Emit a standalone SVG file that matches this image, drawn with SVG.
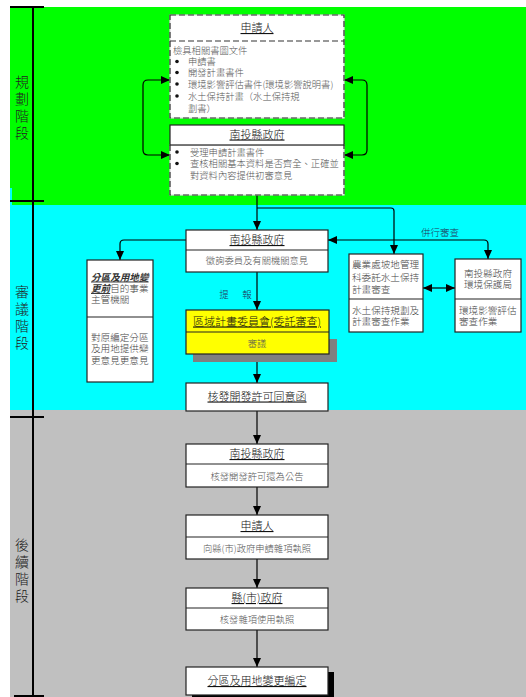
<svg xmlns="http://www.w3.org/2000/svg" width="526" height="697" viewBox="0 0 526 697">
<defs>
<marker id="ah" markerUnits="userSpaceOnUse" markerWidth="9" markerHeight="8" refX="9" refY="4" orient="auto-start-reverse">
<path d="M0,0 L9,4 L0,8 z" fill="#000"/>
</marker>
<style>
text{font-family:"Noto Sans CJK TC","Noto Sans CJK SC",sans-serif;font-weight:300;}
.box{fill:#fff;stroke:#222;stroke-width:1.2;}
.dash{fill:none;stroke:#333;stroke-width:1.2;stroke-dasharray:6,3;}
.dashbg{fill:#fff;stroke:#ddd;stroke-width:1.2;}
.hd{font-size:11px;fill:#111;text-decoration:underline;text-anchor:middle;}
.bd{font-size:9.3px;fill:#555;}
.bdc{font-size:9.3px;fill:#555;text-anchor:middle;}
.sm{font-size:9.6px;fill:#444;}
.stage{font-size:14px;fill:#222;text-anchor:middle;}
.con{fill:none;stroke:#000;stroke-width:1.2;}
.lbl{font-size:9.5px;fill:#235;}
.bi{font-weight:bold;font-style:italic;text-decoration:underline;fill:#333;}
</style>
</defs>

<g id="bands">
<rect x="10" y="7" width="516" height="198" fill="#00ff00"/>
<rect x="10" y="188" width="2" height="17" fill="#00ffff"/>
<rect x="10" y="205" width="516" height="205" fill="#00ffff"/>
<rect x="10" y="410" width="516" height="287" fill="#c0c0c0"/>
</g>

<g id="timeline" stroke="#000" stroke-width="2">
<line x1="33" y1="7" x2="33" y2="697"/>
<line x1="10" y1="7" x2="44" y2="7"/>
<line x1="10" y1="201" x2="44" y2="201"/>
<line x1="10" y1="417" x2="44" y2="417"/>
<line x1="14" y1="696" x2="44" y2="696"/>
</g>

<g id="stage-labels">
<text class="stage" x="22" y="87">規</text>
<text class="stage" x="22" y="104">劃</text>
<text class="stage" x="22" y="121">階</text>
<text class="stage" x="22" y="138">段</text>
<text class="stage" x="22" y="297">審</text>
<text class="stage" x="22" y="314">議</text>
<text class="stage" x="22" y="331">階</text>
<text class="stage" x="22" y="348">段</text>
<text class="stage" x="22" y="550">後</text>
<text class="stage" x="22" y="567">續</text>
<text class="stage" x="22" y="584">階</text>
<text class="stage" x="22" y="601">段</text>
</g>

<g id="connectors">
<path class="con" d="M170,80 H148 Q143,80 143,85 V150 Q143,155 148,155 H170" marker-start="url(#ah)" marker-end="url(#ah)"/>
<path class="con" d="M344,80 H362 Q367,80 367,85 V150 Q367,155 362,155 H344" marker-start="url(#ah)" marker-end="url(#ah)"/>
<path class="con" d="M257,195 V230" marker-end="url(#ah)"/>
<path class="con" d="M257,208 H391 Q394,208 394,211 V254" marker-end="url(#ah)"/>
<path class="con" d="M186,240 H124 Q120,240 120,244 V260" marker-end="url(#ah)"/>
<path class="con" d="M328,240 H484 Q488,240 488,244 V259" marker-start="url(#ah)" marker-end="url(#ah)"/>
<path class="con" d="M423,288 H455" marker-start="url(#ah)" marker-end="url(#ah)"/>
<path class="con" d="M257,272 V310" marker-end="url(#ah)"/>
<path class="con" d="M257,354 V383" marker-end="url(#ah)"/>
<path class="con" d="M257,411 V444" marker-end="url(#ah)"/>
<path class="con" d="M257,487 V515" marker-end="url(#ah)"/>
<path class="con" d="M257,559 V588" marker-end="url(#ah)"/>
<path class="con" d="M257,630 V667" marker-end="url(#ah)"/>
<text class="lbl" x="224" y="297.5" text-anchor="middle">提</text>
<text class="lbl" x="247" y="297.5" text-anchor="middle">報</text>
<text class="lbl" x="440" y="235.5" text-anchor="middle">併行審查</text>
</g>

<g id="applicant-plan">
<rect class="dashbg" x="170" y="15" width="174" height="103"/>
<rect class="dash" x="170" y="15" width="174" height="103"/>
<line class="dash" x1="170" y1="41" x2="344" y2="41"/>
<text class="hd" x="257" y="32">申請人</text>
<text class="bd" x="173" y="53.5">檢具相關書圖文件</text>
<circle cx="177" cy="61.5" r="1.8" fill="#111"/>
<text class="bd" x="188" y="65">申請書</text>
<circle cx="177" cy="72.5" r="1.8" fill="#111"/>
<text class="bd" x="188" y="76">開發計畫書件</text>
<circle cx="177" cy="84" r="1.8" fill="#111"/>
<text class="bd" x="188" y="87.5">環境影響評估書件(環境影響說明書)</text>
<circle cx="177" cy="96" r="1.8" fill="#111"/>
<text class="bd" x="188" y="100">水土保持計畫（水土保持規</text>
<text class="bd" x="188" y="111.5">劃書）</text>
</g>

<g id="county-plan">
<rect class="dashbg" x="170" y="145" width="174" height="50"/>
<path class="dash" d="M170,145 V195 H344 V145"/>
<rect class="box" x="170" y="125" width="174" height="20"/>
<text class="hd" x="257" y="138.5">南投縣政府</text>
<circle cx="177" cy="152" r="1.8" fill="#111"/>
<text class="bd" x="190" y="155.5">受理申請計畫書件</text>
<circle cx="177" cy="163.5" r="1.8" fill="#111"/>
<text class="bd" x="190" y="167">查核相關基本資料是否齊全、正確並</text>
<text class="bd" x="190" y="178.5">對資料內容提供初審意見</text>
</g>

<g id="county-review">
<rect class="box" x="186" y="230" width="142" height="42"/>
<line class="box" x1="186" y1="250" x2="328" y2="250"/>
<text class="hd" x="257" y="244">南投縣政府</text>
<text class="bdc" x="257" y="264">徵詢委員及有關機關意見</text>
</g>

<g id="zoning-agency">
<rect class="box" x="87" y="260" width="66" height="122"/>
<line class="box" x1="87" y1="317" x2="153" y2="317"/>
<text class="sm bi" x="91" y="280.5">分區及用地變</text>
<text class="sm" x="91" y="292"><tspan class="bi">更前</tspan>目的事業</text>
<text class="sm" x="91" y="303">主管機關</text>
<text class="sm" x="91" y="340.5">對原編定分區</text>
<text class="sm" x="91" y="352">及用地提供變</text>
<text class="sm" x="91" y="363.5">更意見更意見</text>
</g>

<g id="agriculture">
<rect class="box" x="349" y="254" width="74" height="78"/>
<line class="box" x1="349" y1="299" x2="423" y2="299"/>
<text class="sm" x="352" y="268">農業處坡地管理</text>
<text class="sm" x="352" y="280.5">科委託水土保持</text>
<text class="sm" x="352" y="293">計畫審查</text>
<text class="sm" x="352" y="313.5">水土保持規劃及</text>
<text class="sm" x="352" y="325">計畫審查作業</text>
</g>

<g id="env-bureau">
<rect class="box" x="455" y="259" width="66" height="73"/>
<line class="box" x1="455" y1="299" x2="521" y2="299"/>
<text class="sm" x="488" y="277" text-anchor="middle">南投縣政府</text>
<text class="sm" x="488" y="288" text-anchor="middle">環境保護局</text>
<text class="sm" x="459" y="313.5">環境影響評估</text>
<text class="sm" x="459" y="325">審查作業</text>
</g>

<g id="regional-committee">
<rect x="193" y="339" width="144" height="23" fill="#808080"/>
<rect x="186" y="310" width="143" height="44" fill="#ffff00" stroke="#222" stroke-width="1.2"/>
<line class="box" x1="186" y1="332" x2="329" y2="332"/>
<text class="hd" x="257" y="325.5">區域計畫委員會(委託審查)</text>
<text class="bdc" x="257" y="347">審議</text>
</g>

<g id="permit-letter">
<rect class="box" x="186" y="383" width="142" height="28"/>
<text class="hd" x="257" y="400.5">核發開發許可同意函</text>
</g>

<g id="county-announce">
<rect class="box" x="186" y="444" width="142" height="43"/>
<line class="box" x1="186" y1="464" x2="328" y2="464"/>
<text class="hd" x="257" y="458">南投縣政府</text>
<text class="bdc" x="257" y="479.5">核發開發許可還為公告</text>
</g>

<g id="applicant-license">
<rect class="box" x="186" y="515" width="142" height="44"/>
<line class="box" x1="186" y1="537" x2="328" y2="537"/>
<text class="hd" x="257" y="530">申請人</text>
<text class="bdc" x="257" y="551.5">向縣(市)政府申請雜項執照</text>
</g>

<g id="city-gov">
<rect class="box" x="186" y="588" width="142" height="42"/>
<line class="box" x1="186" y1="608" x2="328" y2="608"/>
<text class="hd" x="257" y="602">縣(市)政府</text>
<text class="bdc" x="257" y="622.5">核發雜項使用執照</text>
</g>

<g id="zoning-change">
<rect x="192" y="672" width="142" height="30" fill="#000"/>
<rect class="box" x="186" y="667" width="142" height="28"/>
<text class="hd" x="257" y="685">分區及用地變更編定</text>
</g>
</svg>
